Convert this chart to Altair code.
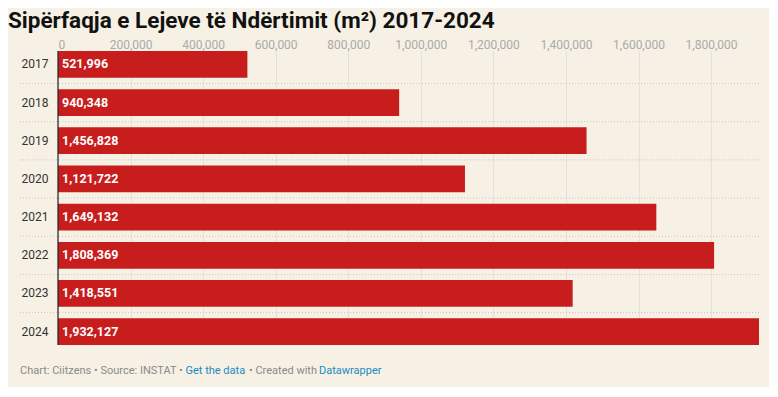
import altair as alt
import pandas as pd

years = ["2017", "2018", "2019", "2020", "2021", "2022", "2023", "2024"]
values = [521996, 940348, 1456828, 1121722, 1649132, 1808369, 1418551, 1932127]
tick_values = [0, 200000, 400000, 600000, 800000, 1000000, 1200000, 1400000, 1600000, 1800000]

title_text = "Sipërfaqja e Lejeve të Ndërtimit (m²) 2017-2024"
footer_parts = [
    ("Chart: Ciitzens • Source: INSTAT •", "#8a8a8a"),
    ("Get the data", "#1c8ac2"),
    ("• Created with", "#8a8a8a"),
    ("Datawrapper", "#1c8ac2"),
]

W, H = 701, 294
FONT = "Roboto"

df = pd.DataFrame({"year": years, "value": values})
df["label"] = [f"{v:,}" for v in values]
sep = pd.DataFrame({"year": years[:-1]})

yscale = alt.Scale(domain=years, paddingInner=0.3, paddingOuter=0)
xscale = alt.Scale(domain=[0, max(values)], nice=False, zero=True)

y_enc = alt.Y(
    "year:N",
    scale=yscale,
    title=None,
    axis=alt.Axis(
        ticks=False, domain=False, labelPadding=10, labelColor="#333333",
        labelFontSize=12, labelFont=FONT, grid=False,
    ),
)
x_enc = alt.X(
    "value:Q",
    scale=xscale,
    title=None,
    axis=alt.Axis(
        orient="top", values=tick_values, format=",d", grid=True,
        gridColor="#e4e1d9", domain=False, ticks=False, labelPadding=0,
        labelColor="#aaaaaa", labelFontSize=12, labelFont=FONT,
    ),
)

bars = alt.Chart(df).mark_bar(color="#c71d1d").encode(x=x_enc, y=y_enc)

seps = alt.Chart(sep).mark_rule(
    color="#c9c6be", strokeDash=[1, 2], strokeWidth=1, yOffset=5.8
).encode(
    y=alt.Y("year:N", scale=yscale, bandPosition=1),
    x=alt.value(-38),
    x2=alt.value(W),
)

zero = alt.Chart(pd.DataFrame({"z": [0]})).mark_rule(color="#222222", strokeWidth=1.2).encode(
    x=alt.X("z:Q", scale=xscale),
    y=alt.value(0),
    y2=alt.value(H),
)

labels = alt.Chart(df).mark_text(
    align="left", baseline="middle", color="white", font=FONT,
    fontWeight="bold", fontSize=12.5,
).encode(
    x=alt.value(4),
    y=alt.Y("year:N", scale=yscale, bandPosition=0.5),
    text="label:N",
)

title = alt.Chart(pd.DataFrame({"t": [title_text]})).mark_text(
    align="left", baseline="alphabetic", font=FONT, fontWeight="bold",
    fontSize=22.5, color="#111111",
).encode(x=alt.value(-50), y=alt.value(-23), text="t:N")

footer_x = [-38, 127.5, 191, 261]
footer_layers = []
for (txt, col), fx in zip(footer_parts, footer_x):
    footer_layers.append(
        alt.Chart(pd.DataFrame({"t": [txt]})).mark_text(
            align="left", baseline="alphabetic", font=FONT, fontSize=11, color=col,
        ).encode(x=alt.value(fx), y=alt.value(323), text="t:N")
    )

chart = alt.layer(seps, bars, zero, labels, title, *footer_layers).properties(
    width=W, height=H,
    autosize=alt.AutoSizeParams(type="none"),
    padding={"left": 50, "top": 43, "right": 10, "bottom": 42},
    background="#f6f1e4",
).configure_view(stroke=None)

chart.save("out.html", embed_options={"renderer": "svg", "actions": False})
